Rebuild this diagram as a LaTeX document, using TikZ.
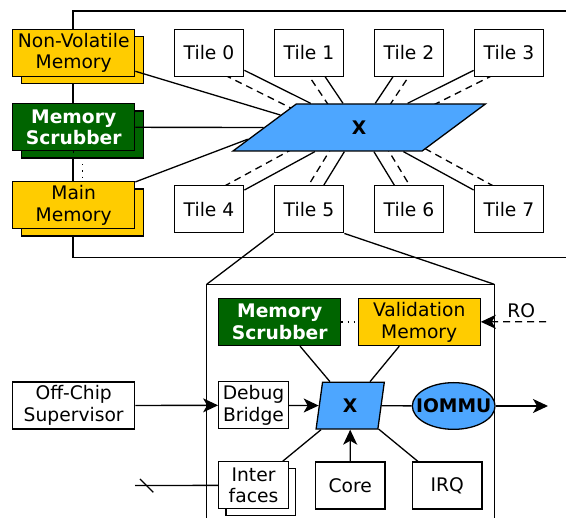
\documentclass[tikz,border=0pt]{standalone}
\usepackage{fontspec}
\setmainfont{DejaVu Sans}
\usetikzlibrary{shapes.geometric, arrows.meta, shadows, calc, backgrounds}
\definecolor{memyellow}{RGB}{255,204,0}
\definecolor{scrubgreen}{RGB}{0,100,0}
\definecolor{xblue}{RGB}{77,166,255}
\newcommand{\figfont}{\fontsize{18.7}{21.7}\selectfont}
\tikzstyle{tile} = [rectangle, minimum width=69.5pt, minimum height=47pt, inner sep=2pt, align=center, draw=black, fill=white]
\tikzstyle{wide} = [tile, minimum width=122pt]
\tikzstyle{memory} = [wide, fill=memyellow]
\tikzstyle{scrubber} = [wide, fill=scrubgreen, text=white, font=\figfont\bfseries]
\tikzstyle{stack} = [copy shadow={shadow xshift=9pt, shadow yshift=-7.3pt}]
\tikzstyle{xbar} = [trapezium, trapezium stretches=true, inner sep=0pt, draw=black, fill=xblue, font=\figfont\bfseries]
\tikzstyle{arrow} = [-{Stealth[length=15pt, width=14pt, inset=4pt]}]
\tikzstyle{dotline} = [dash pattern=on 1.3pt off 5pt]
\tikzstyle{bus} = [dash pattern=on 7pt off 5pt]

\begin{document}
\begin{tikzpicture}[x=1pt, y=-1pt, line width=1.3pt, font=\figfont, node distance=100pt]
\useasboundingbox (0,0) rectangle (566,518);

% Chip
\node (nvm) [memory, stack] at (73.7,52.7) {Non-Volatile\\Memory};
\node (scrub) [scrubber, stack] at (73.7,127.3) {Memory\\Scrubber};
\node (mainmem) [memory, stack] at (73.7,205.3) {Main\\Memory};
\node (xbar) [xbar, trapezium left angle=62, trapezium right angle=118, minimum width=253pt, minimum height=47pt] at (359.2,127.5) {X};
\node (t0) [tile] at (209,52.7) {Tile 0};
\node (t1) [tile, right of=t0] {Tile 1};
\node (t2) [tile, right of=t1] {Tile 2};
\node (t3) [tile, right of=t2] {Tile 3};
\node (t4) [tile, below of=t0, yshift=-56.6pt] {Tile 4};
\node (t5) [tile, right of=t4] {Tile 5};
\node (t6) [tile, right of=t5] {Tile 6};
\node (t7) [tile, right of=t6] {Tile 7};

% Tile
\node (sup) [wide] at (73.7,405.5) {Off-Chip\\Supervisor};
\node (scrubtwo) [scrubber] at (279.7,322) {Memory\\Scrubber};
\node (valmem) [memory] at (419.2,322) {Validation\\Memory};
\node (bridge) [tile] at (253.5,405.3) {Debug\\Bridge};
\node (xtile) [xbar, trapezium left angle=83, trapezium right angle=97, minimum width=68.3pt, minimum height=46.7pt] at (350.2,405.7) {X};
\node (iommu) [ellipse, draw=black, fill=xblue, minimum width=82.7pt, minimum height=46.7pt, inner sep=0pt, font=\figfont\bfseries] at (453.7,406) {\makebox[0pt]{IOMMU}};
\node (ifaces) [tile, copy shadow={shadow xshift=7.3pt, shadow yshift=-7pt}] at (253.5,485.3) {Inter\\faces};
\node (core) [tile] at (350.2,485.5) {Core};
\node (irq) [tile] at (447.2,485.5) {IRQ};

\coordinate (fl) at (206.7,284.3);
\coordinate (fr) at (494.3,284.3);
\coordinate (out) at (548,406);
\coordinate (ro) at (546,321.7);
\coordinate (wires) at (135,485.5);

\begin{scope}[on background layer]
\begin{scope}[line width=1.3pt]
\draw (566,11) -| (73,257.5) -- (566,257.5);
\draw (206.7,520) -- (fl) -- (fr) -- (494.3,520);
\draw [bus] ($(t0)!13pt!-90:(xbar)$) -- ($(xbar)!13pt!90:(t0)$);
\draw [bus] ($(t1)!13pt!-90:(xbar)$) -- ($(xbar)!13pt!90:(t1)$);
\draw [bus] ($(t2)!13pt!90:(xbar)$) -- ($(xbar)!13pt!-90:(t2)$);
\draw [bus] ($(t3)!13pt!90:(xbar)$) -- ($(xbar)!13pt!-90:(t3)$);
\draw [bus] ($(t4)!13pt!90:(xbar)$) -- ($(xbar)!13pt!-90:(t4)$);
\draw [bus] ($(t5)!13pt!90:(xbar)$) -- ($(xbar)!13pt!-90:(t5)$);
\draw [bus] ($(t6)!13pt!-90:(xbar)$) -- ($(xbar)!13pt!90:(t6)$);
\draw [bus] ($(t7)!13pt!-90:(xbar)$) -- ($(xbar)!13pt!90:(t7)$);
\draw [dotline] ([xshift=9pt]scrub.south) -- ([xshift=9pt]mainmem.north);
\end{scope}
\end{scope}

% Connections
\draw (nvm) -- (xbar.171);
\draw (scrub) -- (xbar);
\draw (mainmem) -- (xbar.186);
\draw [dotline] (scrub) -- (mainmem);
\draw (t0) -- (xbar);
\draw (t1) -- (xbar);
\draw (t2) -- (xbar);
\draw (t3) -- (xbar);
\draw (t4) -- (xbar);
\draw (t5) -- (xbar);
\draw (t6) -- (xbar);
\draw (t7) -- (xbar);
\draw (t5.south west) -- (fl);
\draw (t5.south east) -- (fr);

\draw [arrow] (sup) -- (bridge);
\draw [arrow] (bridge) -- (xtile);
\draw (scrubtwo) -- (xtile);
\draw (valmem) -- (xtile);
\draw [dotline] (scrubtwo) -- (valmem);
\draw [arrow, bus] (ro) -- node[pos=0.38, above] {RO} (valmem);
\draw (xtile) -- (iommu);
\draw [arrow] (iommu) -- (out);
\draw [arrow] (core) -- (xtile);
\draw (irq) -- (xtile);
\draw (ifaces) -- (xtile);
\draw (wires) -- (ifaces);
\draw ([shift={(5,-6.5)}]wires) -- ++(13.3,13.3);

\end{tikzpicture}
\end{document}
